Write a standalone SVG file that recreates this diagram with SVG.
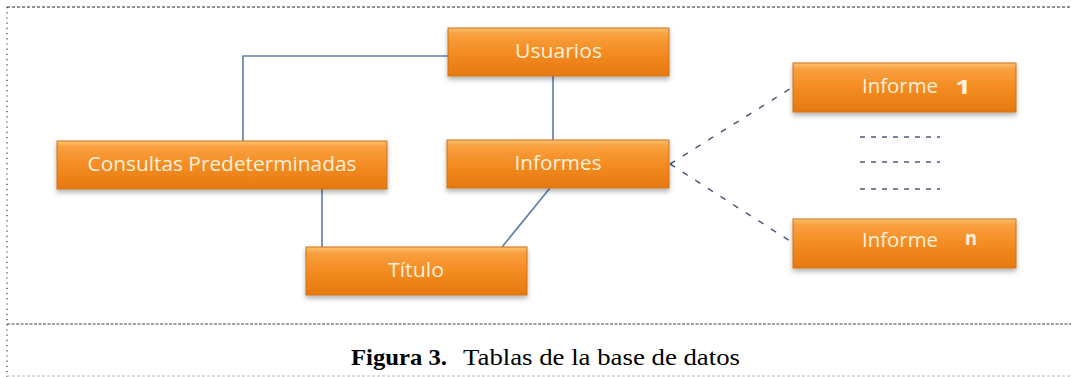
<svg xmlns="http://www.w3.org/2000/svg" width="1071" height="377" viewBox="0 0 1071 377">
<defs>
<linearGradient id="og" x1="0" y1="0" x2="0" y2="1">
<stop offset="0" stop-color="#fcc46e"/>
<stop offset="0.12" stop-color="#f8a040"/>
<stop offset="0.5" stop-color="#f48c22"/>
<stop offset="1" stop-color="#e5790f"/>
</linearGradient>
<filter id="sh" x="-10%" y="-30%" width="120%" height="170%">
<feDropShadow dx="0" dy="3" stdDeviation="2.5" flood-color="#000" flood-opacity="0.3"/>
</filter>
</defs>
<style>
.box{fill:url(#og);stroke:#d0701a;stroke-width:1;filter:url(#sh)}
.lbl{font-family:"Open Sans","Liberation Sans",sans-serif;font-size:20px;fill:#fdf0dc;text-anchor:middle}
.lbl2{font-family:"Open Sans","Liberation Sans",sans-serif;font-size:20px;fill:#fdf0dc}
.ln{stroke:#5b7db0;stroke-width:1.6;fill:none}
.dl{stroke:#4c5a78;stroke-width:1.5;fill:none;stroke-dasharray:6 9}
.dot{stroke:#4c5a78;stroke-width:1.5;fill:none;stroke-dasharray:5 6}
.cap{font-family:"Liberation Serif","Times New Roman",serif;font-size:24px;fill:#000}
</style>
<g id="frame">
<line x1="7" y1="7" x2="1071" y2="7" stroke="#222" stroke-width="1" stroke-dasharray="3 2"/>
<line x1="7" y1="7" x2="7" y2="377" stroke="#333" stroke-width="1.2" stroke-dasharray="1.2 4"/>
<line x1="7" y1="324" x2="1071" y2="324" stroke="#444" stroke-width="1" stroke-dasharray="3 1.5"/>
<line x1="7" y1="376" x2="1071" y2="376" stroke="#bbb" stroke-width="1" stroke-dasharray="3 2"/>
</g>
<g id="connectors">
<polyline class="ln" points="448,56 243,56 243,141"/>
<line class="ln" x1="553" y1="76" x2="553" y2="140"/>
<line class="ln" x1="322" y1="189" x2="322" y2="247"/>
<line class="ln" x1="550" y1="188" x2="502" y2="247"/>
<line class="dl" x1="670" y1="164" x2="793" y2="87"/>
<line class="dl" x1="670" y1="164" x2="793" y2="243"/>
<line class="dot" x1="860" y1="137" x2="940" y2="137"/>
<line class="dot" x1="860" y1="162" x2="940" y2="162"/>
<line class="dot" x1="860" y1="189" x2="940" y2="189"/>
</g>
<g id="usuarios">
<rect class="box" x="448" y="28" width="221" height="48"/>
<text class="lbl" x="558.5" y="58" textLength="87" lengthAdjust="spacingAndGlyphs">Usuarios</text>
</g>
<g id="consultas">
<rect class="box" x="57" y="141" width="330" height="48"/>
<text class="lbl" x="222" y="171" textLength="269" lengthAdjust="spacingAndGlyphs">Consultas Predeterminadas</text>
</g>
<g id="informes">
<rect class="box" x="447" y="140" width="222" height="48"/>
<text class="lbl" x="558" y="170" textLength="87" lengthAdjust="spacingAndGlyphs">Informes</text>
</g>
<g id="titulo">
<rect class="box" x="306" y="247" width="221" height="48"/>
<text class="lbl" x="416" y="277" textLength="56" lengthAdjust="spacingAndGlyphs">Título</text>
</g>
<g id="informe1">
<rect class="box" x="793" y="63" width="223" height="49"/>
<text class="lbl2" x="862" y="93" textLength="76" lengthAdjust="spacingAndGlyphs">Informe</text>
<text class="lbl2" x="955" y="94" font-weight="bold" textLength="16" lengthAdjust="spacingAndGlyphs">1</text>
</g>
<g id="informen">
<rect class="box" x="793" y="219" width="223" height="49"/>
<text class="lbl2" x="862" y="247" textLength="76" lengthAdjust="spacingAndGlyphs">Informe</text>
<text class="lbl2" x="965" y="245" font-weight="bold" textLength="12" lengthAdjust="spacingAndGlyphs">n</text>
</g>
<g id="caption">
<text class="cap" x="351" y="365" font-weight="bold" textLength="96" lengthAdjust="spacingAndGlyphs">Figura 3.</text>
<text class="cap" x="463" y="365" textLength="277" lengthAdjust="spacingAndGlyphs">Tablas de la base de datos</text>
</g>
</svg>
